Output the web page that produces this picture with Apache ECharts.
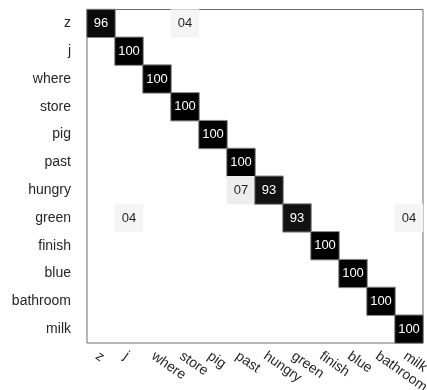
<!DOCTYPE html>
<html>
<head>
<meta charset="utf-8">
<style>
  html, body { margin: 0; padding: 0; background: #fff; }
  #chart { width: 427px; height: 390px; }
</style>
<script src="https://cdn.jsdelivr.net/npm/echarts@6/dist/echarts.min.js"></script>
</head>
<body>
<div id="chart"></div>
<script>
// Class labels (rows = true class, columns = predicted class)
const classes = ['z', 'j', 'where', 'store', 'pig', 'past', 'hungry', 'green', 'finish', 'blue', 'bathroom', 'milk'];

// Non-zero confusion entries: [row, column, percent]
const cellRows = [0, 0, 1, 2, 3, 4, 5, 6, 6, 7, 7, 7, 8, 9, 10, 11];
const cellCols = [0, 3, 1, 2, 3, 4, 5, 5, 6, 1, 7, 11, 8, 9, 10, 11];
const cellPct  = [96, 4, 100, 100, 100, 100, 100, 7, 93, 4, 93, 4, 100, 100, 100, 100];

const pad2 = v => (v < 10 ? '0' + v : String(v));

const data = cellPct.map((v, i) => {
  const dark = v > 50;
  return {
    value: [cellCols[i], cellRows[i], v],
    itemStyle: dark ? { borderColor: '#8a8a8a', borderWidth: 1 } : { borderWidth: 0 },
    label: { color: dark ? '#ffffff' : '#262626' }
  };
});

const chart = echarts.init(document.getElementById('chart'), null, { renderer: 'canvas' });
chart.setOption({
  animation: false,
  backgroundColor: '#ffffff',
  grid: {
    left: 87, top: 9.5, width: 336, height: 333.5,
    containLabel: false, outerBoundsMode: 'none',
    show: true, borderColor: '#6e6e6e', borderWidth: 1, backgroundColor: 'transparent'
  },
  xAxis: {
    type: 'category',
    data: classes,
    axisLine: { show: false },
    axisTick: { show: false },
    splitLine: { show: false },
    axisLabel: {
      interval: 0, rotate: -35, margin: 6,
      verticalAlign: 'top', lineHeight: 14,
      fontFamily: 'Liberation Sans', fontSize: 14, color: '#262626'
    }
  },
  yAxis: {
    type: 'category',
    data: classes,
    inverse: true,
    axisLine: { show: false },
    axisTick: { show: false },
    splitLine: { show: false },
    axisLabel: {
      interval: 0, margin: 16,
      fontFamily: 'Liberation Sans', fontSize: 14, color: '#262626'
    }
  },
  visualMap: {
    show: false, type: 'continuous', min: 0, max: 100, dimension: 2,
    inRange: { color: ['#ffffff', '#000000'] }
  },
  series: [{
    type: 'heatmap',
    data: data,
    label: {
      show: true,
      fontFamily: 'Liberation Sans', fontSize: 13,
      formatter: p => pad2(p.value[2])
    },
    emphasis: { disabled: true }
  }]
});
</script>
</body>
</html>
